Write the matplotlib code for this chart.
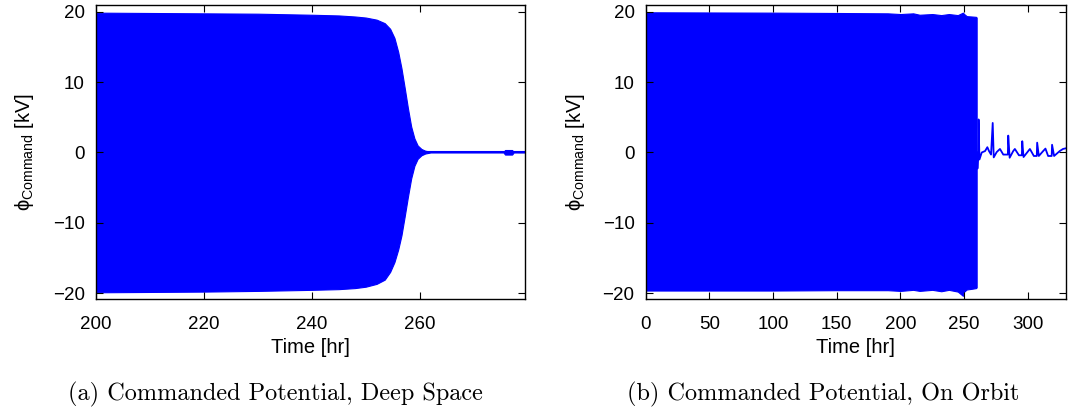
import numpy as np
import matplotlib
matplotlib.use('Agg')
import matplotlib.pyplot as plt

plt.rcParams['font.family'] = ['Liberation Sans', 'DejaVu Sans']
plt.rcParams['mathtext.fontset'] = 'custom'
plt.rcParams['mathtext.rm'] = 'Liberation Sans'
plt.rcParams['font.size'] = 13.5

BLUE = (0, 0, 1)

# (a) deep space: envelope of the commanded potential oscillation [kV]
t_deep = [200, 210, 220, 230, 240, 245, 248, 250, 252, 253.5, 254.5, 255.3, 256.0, 256.6, 257.2,
          257.8, 258.4, 259.0, 259.6, 260.3, 261.0, 262.0, 263.5, 275.5, 275.8, 277.1, 277.4, 279.5]
upper_deep = [19.9, 19.85, 19.8, 19.75, 19.6, 19.5, 19.35, 19.2, 18.9, 18.4, 17.6, 16.3, 14.3, 12.0, 9.2,
              6.3, 3.7, 2.0, 1.0, 0.5, 0.25, 0.12, 0.08, 0.08, 0.35, 0.35, 0.08, 0.08]
lower_deep = [-19.9, -19.85, -19.8, -19.7, -19.55, -19.45, -19.3, -19.1, -18.7, -18.1, -17.0, -15.6, -13.8, -11.8, -9.1,
              -6.3, -3.7, -1.9, -0.9, -0.4, -0.15, 0.0, 0.0, 0.0, -0.3, -0.3, 0.0, 0.0]

# (b) on orbit: envelope of the dense part, then the single trace after ~260 hr
t_orb = [0, 100, 150, 190, 200, 210, 215, 225, 232, 238, 245, 249, 250, 252, 256, 259.3, 259.8]
upper_orb = [19.95, 19.9, 19.85, 19.8, 19.7, 19.8, 19.6, 19.7, 19.55, 19.7, 19.55, 19.9, 19.7, 19.4, 19.35, 19.3, 19.2]
lower_orb = [-19.65, -19.65, -19.6, -19.6, -19.7, -19.55, -19.7, -19.55, -19.75, -19.55, -19.8, -20.4, -19.8, -19.5, -19.4, -19.3, -19.2]

t_tail = [259.8, 260.4, 261.0, 261.3, 262.0, 263.8, 266.4, 268.2, 269.5, 271.1, 272.4, 273.2,
          275.5, 278.1, 280.7, 284.3, 284.6, 285.7, 288.5, 289.8, 293.0, 295.3, 295.6, 296.6,
          300.3, 301.6, 304.7, 307.0, 307.3, 308.6, 312.0, 313.8, 315.9, 318.7, 319.0, 320.6,
          325.0, 327.6, 330.0]
v_tail = [0.0, -2.3, -1.0, 4.7, -1.0, 0.0, 0.2, 0.75, 0.2, -0.3, 4.2, -0.7,
          0.05, 0.5, -0.3, -0.3, 2.4, -0.75, 0.2, 0.5, -0.4, -0.4, 1.6, -0.65,
          0.2, 0.5, -0.5, -0.5, 1.4, -0.5, 0.2, 0.55, -0.5, -0.5, 1.1, -0.5,
          0.2, 0.5, 0.6]

fig = plt.figure(figsize=(10.68, 4.09), dpi=100)
ax1 = fig.add_axes([0.0899, 0.269, 0.4017, 0.719])
ax2 = fig.add_axes([0.6046, 0.269, 0.3936, 0.719])

ax1.fill_between(t_deep, lower_deep, upper_deep, color=BLUE, lw=0.8)
ax1.plot(t_deep[19:], np.zeros(len(t_deep[19:])), color=BLUE, lw=1.5)
ax1.set_xlim(200, 279.5)
ax1.set_xticks([200, 220, 240, 260])

ax2.fill_between(t_orb, lower_orb, upper_orb, color=BLUE, lw=0.8)
ax2.plot(t_tail, v_tail, color=BLUE, lw=1.3)
ax2.set_xlim(0, 330)
ax2.set_xticks([0, 50, 100, 150, 200, 250, 300])

for ax in (ax1, ax2):
    ax.set_ylim(-20.85, 21)
    ax.set_yticks([-20, -10, 0, 10, 20])
    ax.set_yticklabels(['\u221220', '\u221210', '0', '10', '20'])
    ax.tick_params(direction='in', top=True, right=True, length=5, width=0.8, pad=8)
    ax.tick_params(axis='x', pad=12)
    for s in ax.spines.values():
        s.set_linewidth(1.0)
    ax.set_xlabel('Time [hr]', fontsize=14.5, labelpad=4)
    ax.set_ylabel('\u03d5$_{\\mathrm{Command}}$ [kV]', fontsize=14.5)
    ax.yaxis.set_label_coords(-0.14, 0.5)

fig.text(0.258, 0.036, '(a) Commanded Potential, Deep Space', family='cmr10', fontsize=17.5,
         ha='center', va='center')
fig.text(0.771, 0.036, '(b) Commanded Potential, On Orbit', family='cmr10', fontsize=17.5,
         ha='center', va='center')

fig.savefig('out.png', dpi=100)
